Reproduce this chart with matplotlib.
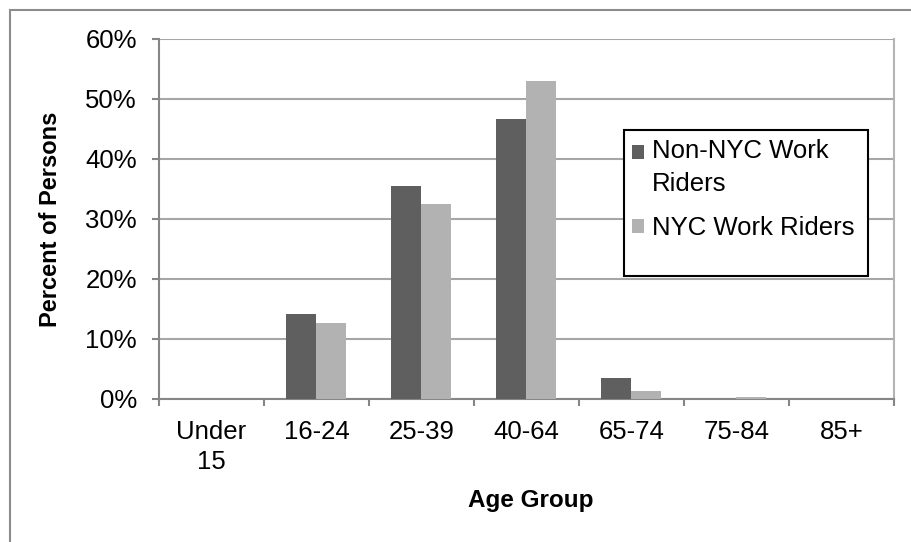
import numpy as np
import matplotlib.pyplot as plt
from matplotlib.patches import Rectangle
from matplotlib.legend_handler import HandlerPatch
from matplotlib.ticker import PercentFormatter, FixedLocator

plt.rcParams['font.family'] = ['Liberation Sans', 'DejaVu Sans']

age_groups = ["Under\n15", "16-24", "25-39", "40-64", "65-74", "75-84", "85+"]
non_nyc = [0.0, 14.2, 35.5, 46.7, 3.5, 0.05, 0.0]
nyc = [0.0, 12.7, 32.5, 53.0, 1.3, 0.3, 0.05]
series_names = ["Non-NYC Work\nRiders", "NYC Work Riders"]

W, H = 912, 542
fs = 18.5
fig = plt.figure(figsize=(W / 100, H / 100), dpi=100)
ax = fig.add_axes([159 / W, 1 - 399 / H, (894 - 159) / W, (399 - 39) / H])

x = np.arange(len(age_groups))
bw = 30 / 105
b1 = ax.bar(x - bw / 2, non_nyc, bw, color="#5f5f5f", zorder=3)
b2 = ax.bar(x + bw / 2, nyc, bw, color="#b2b2b2", zorder=3)

ax.set_xlim(-0.5, len(age_groups) - 0.5)
ax.set_ylim(0, 60)
ax.yaxis.set_major_locator(FixedLocator(np.arange(0, 61, 10)))
ax.yaxis.set_major_formatter(PercentFormatter(decimals=0))
ax.grid(axis="y", color="#a6a6a6", lw=1.5, zorder=0)

ax.set_xticks(x)
ax.set_xticklabels(age_groups)
ax.set_xticks(np.arange(-0.5, len(age_groups)), minor=True)
ax.tick_params(axis="x", which="major", length=0, pad=15, labelsize=fs)
ax.tick_params(axis="x", which="minor", length=5, width=1.5, color="#868686", direction="out")
ax.tick_params(axis="y", length=5, width=1.5, color="#868686", direction="out", pad=11, labelsize=fs)
for lbl in ax.get_xticklabels():
    lbl.set_linespacing(1.3)

for s in ["left", "bottom"]:
    ax.spines[s].set_color("#868686")
    ax.spines[s].set_linewidth(1.5)
ax.spines["top"].set_visible(False)
ax.spines["right"].set_color("#b4b4b4")
ax.spines["right"].set_linewidth(1.5)

fig.text(51 / W, 1 - 219 / H, "Percent of Persons", rotation=90, ha="center", va="center",
         fontsize=17, fontweight="bold")
fig.text(531 / W, 1 - 500 / H, "Age Group", ha="center", va="center",
         fontsize=17.5, fontweight="bold")


# first legend square sits level with the first line of its two-line label
def raised_square(legend, orig_handle, xdescent, ydescent, width, height, fontsize):
    return Rectangle((-xdescent, -ydescent + 0.62 * fontsize), width, height)


# legend box drawn separately, Excel style with empty space below
fig.patches.append(Rectangle((624 / W, 1 - 276 / H), (868 - 624) / W, (276 - 130) / H,
                             transform=fig.transFigure, fill=True, facecolor="white",
                             edgecolor="black", lw=1.5, zorder=5))
leg = fig.legend([b1[0], b2[0]], series_names, loc="upper left",
                 bbox_to_anchor=(632 / W, 1 - 139 / H), frameon=False, fontsize=fs,
                 handlelength=0.48, handleheight=0.48, handletextpad=0.3,
                 labelspacing=0.8, borderpad=0, borderaxespad=0,
                 handler_map={b1[0]: HandlerPatch(patch_func=raised_square)})
for t in leg.get_texts():
    t.set_linespacing(1.45)
leg.set_zorder(6)

# outer chart border
fig.patches.append(Rectangle((10 / W, -0.1), 1.2, 1 - 10 / H + 0.1, transform=fig.transFigure,
                             fill=False, edgecolor="#8c8c8c", lw=1.5))

fig.savefig("out.png", dpi=100)
